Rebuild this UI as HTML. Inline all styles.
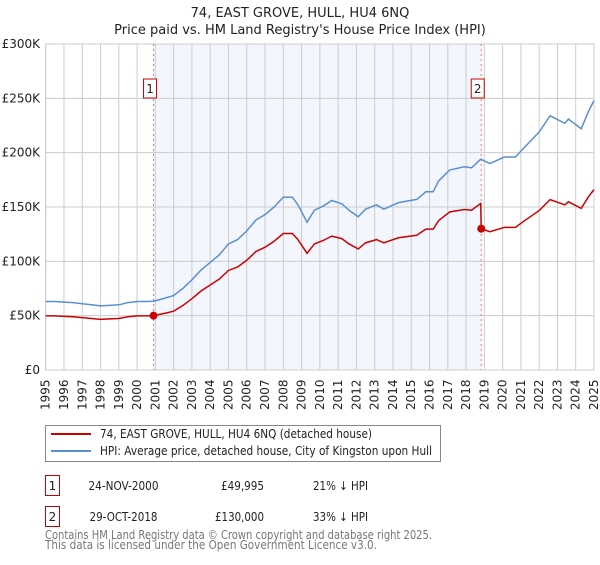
<!DOCTYPE html>
<html><head><meta charset="utf-8"><style>
body{margin:0;background:#fff;font-family:"Liberation Sans","DejaVu Sans",sans-serif;}
svg text{font-family:"DejaVu Sans","Liberation Sans",sans-serif;}
</style></head><body>
<svg width="600" height="560" viewBox="0 0 600 560" xmlns="http://www.w3.org/2000/svg">
<g id="root"></g>
</svg>
<script>
const hpiYears=[1995,1995.5,1996,1996.5,1997,1997.5,1998,1998.5,1999,1999.5,2000,2000.5,2000.9,2001.5,2002,2002.5,2003,2003.5,2004,2004.5,2005,2005.5,2006,2006.5,2007,2007.5,2008,2008.5,2008.8,2009.3,2009.7,2010.2,2010.65,2011.2,2011.6,2012.1,2012.5,2013.1,2013.5,2014.3,2015.3,2015.8,2016.2,2016.5,2017.1,2017.9,2018.3,2018.8,2019.3,2020.1,2020.7,2021.2,2022,2022.6,2023.4,2023.6,2024.3,2024.7,2025];
const hpiValues=[63,63,62.5,62,61,60,59,59.5,60,62,63,63,63.3,66,68.5,75,83,92,99,106,116,120,128,138,143,150,159,159,152,136,147,151,156,153,147,141,148,152,148,154,157,164,164,174,184,187,186,194,190,196,196,205,219,234,227,231,222,238,248];
const redYears=[1995,1995.5,1996,1996.5,1997,1997.5,1998,1998.5,1999,1999.5,2000,2000.5,2000.9,2001.5,2002,2002.5,2003,2003.5,2004,2004.5,2005,2005.5,2006,2006.5,2007,2007.5,2008,2008.5,2008.8,2009.3,2009.7,2010.2,2010.65,2011.2,2011.6,2012.1,2012.5,2013.1,2013.5,2014.3,2015.3,2015.8,2016.2,2016.5,2017.1,2017.9,2018.3,2018.8,2018.83,2019.3,2020.1,2020.7,2021.2,2022,2022.6,2023.4,2023.6,2024.3,2024.7,2025];
const redValues=[49.8,49.8,49.4,49,48.2,47.4,46.6,47,47.4,49,49.8,49.8,50,52.1,54.1,59.3,65.6,72.7,78.2,83.7,91.6,94.8,101,109,113,118.5,125.6,125.6,120,107.4,116,119.3,123.2,120.9,116,111.4,117,120,117,121.7,124,129.6,129.6,137.5,145.4,147.7,147,153.3,130,127.3,131.3,131.3,137.4,146.7,156.8,152,154.8,148.7,159.5,166];
const saleYears=[2000.9,2018.83];
const saleValues=[49.995,130];
const yTicks=[0,50,100,150,200,250,300];
const yTickLabels=["£0","£50K","£100K","£150K","£200K","£250K","£300K"];
const xTicks=[1995,1996,1997,1998,1999,2000,2001,2002,2003,2004,2005,2006,2007,2008,2009,2010,2011,2012,2013,2014,2015,2016,2017,2018,2019,2020,2021,2022,2023,2024,2025];

const NS="http://www.w3.org/2000/svg";
const root=document.getElementById('root');
const L=45.7,R=594,T=44,B=370;
const x=y=>L+(y-1995)*(R-L)/30;
const yv=v=>B-v*(B-T)/300;
function mk(tag,attrs,parent){const e=document.createElementNS(NS,tag);for(const k in attrs)e.setAttribute(k,attrs[k]);(parent||root).appendChild(e);return e;}

let e;
e=mk('rect',{x:x(saleYears[0]),y:T,width:x(saleYears[1])-x(saleYears[0]),height:B-T,fill:'#f3f6fd'});


xTicks.forEach(t=>{e=mk('line',{x1:x(t),x2:x(t),y1:T,y2:B,stroke:'#cccccc','stroke-width':1});


e=mk('text',{x:0,y:0,transform:`translate(${x(t)+4},${B+40}) rotate(-90)`,'font-size':12,fill:'#222'});e.textContent=t;

});
yTicks.forEach((t,i)=>{e=mk('line',{x1:L,x2:R,y1:yv(t),y2:yv(t),stroke:'#cccccc','stroke-width':1});


e=mk('text',{x:40,y:yv(t)+4,'text-anchor':'end','font-size':12,fill:'#222'});e.textContent=yTickLabels[i];

});
e=mk('rect',{x:L,y:T,width:R-L,height:B-T,fill:'none',stroke:'#cccccc'});


saleYears.forEach((s,i)=>{e=mk('line',{x1:x(s),x2:x(s),y1:T,y2:B,stroke:'#f07070','stroke-width':1,'stroke-dasharray':'2,3'});


e=mk('rect',{x:x(s)-10,y:79,width:13,height:19,fill:'#fff',stroke:'#cc0000'});


e=mk('text',{x:x(s)-3.5,y:93,'text-anchor':'middle','font-size':12,fill:'#222'});e.textContent=String(i+1);

});
e=mk('polyline',{points:hpiYears.map((t,i)=>x(t)+','+yv(hpiValues[i])).join(' '),fill:'none',stroke:'#5b8fd4','stroke-width':1.5});


e=mk('polyline',{points:redYears.map((t,i)=>x(t)+','+yv(redValues[i])).join(' '),fill:'none',stroke:'#cc0000','stroke-width':1.5});


saleYears.forEach((s,i)=>{e=mk('circle',{cx:x(s),cy:yv(saleValues[i]),r:4,fill:'#cc0000'});

});

function txt(s,a,name,len){const t=mk('text',a);t.textContent=s;if(len){t.setAttribute('textLength',len);t.setAttribute('lengthAdjust','spacingAndGlyphs');}return t;}
txt('74, EAST GROVE, HULL, HU4 6NQ',{x:300,y:17,'text-anchor':'middle','font-size':13,fill:'#222'},'chart-title');
txt("Price paid vs. HM Land Registry's House Price Index (HPI)",{x:300,y:34,'text-anchor':'middle','font-size':13,fill:'#222'},'chart-subtitle');
e=mk('rect',{x:45.5,y:425.5,width:395,height:36,fill:'#fff',stroke:'#888'});


e=mk('line',{x1:51,x2:91,y1:434,y2:434,stroke:'#cc0000','stroke-width':2});


e=mk('line',{x1:51,x2:91,y1:451,y2:451,stroke:'#5b8fd4','stroke-width':2});


txt('74, EAST GROVE, HULL, HU4 6NQ (detached house)',{x:100,y:438,'font-size':12,fill:'#222'},'legend-entry-price',272);
txt('HPI: Average price, detached house, City of Kingston upon Hull',{x:100,y:455,'font-size':12,fill:'#222'},'legend-entry-hpi',332);
[['1','24-NOV-2000','£49,995','21% ↓ HPI',475,70,43,55],['2','29-OCT-2018','£130,000','33% ↓ HPI',506,68,49,55]].forEach(r=>{
e=mk('rect',{x:45.5,y:r[4]+0.5,width:14,height:20,fill:'#fff',stroke:'#cc0000'});


txt(r[0],{x:52.5,y:r[4]+15,'text-anchor':'middle','font-size':12,fill:'#222'},'sale-row-number');
txt(r[1],{x:123.5,y:r[4]+15,'text-anchor':'middle','font-size':12,fill:'#222'},'sale-row-date',r[5]);
txt(r[2],{x:264,y:r[4]+15,'text-anchor':'end','font-size':12,fill:'#222'},'sale-row-price',r[6]);
txt(r[3],{x:313,y:r[4]+15,'font-size':12,fill:'#222'},'sale-row-hpi',r[7]);});
txt('Contains HM Land Registry data © Crown copyright and database right 2025.',{x:45,y:539,'font-size':12,fill:'#777'},'footer-line-1',387);
txt('This data is licensed under the Open Government Licence v3.0.',{x:45,y:549,'font-size':12,fill:'#777'},'footer-line-2',332);
</script>
</body></html>
